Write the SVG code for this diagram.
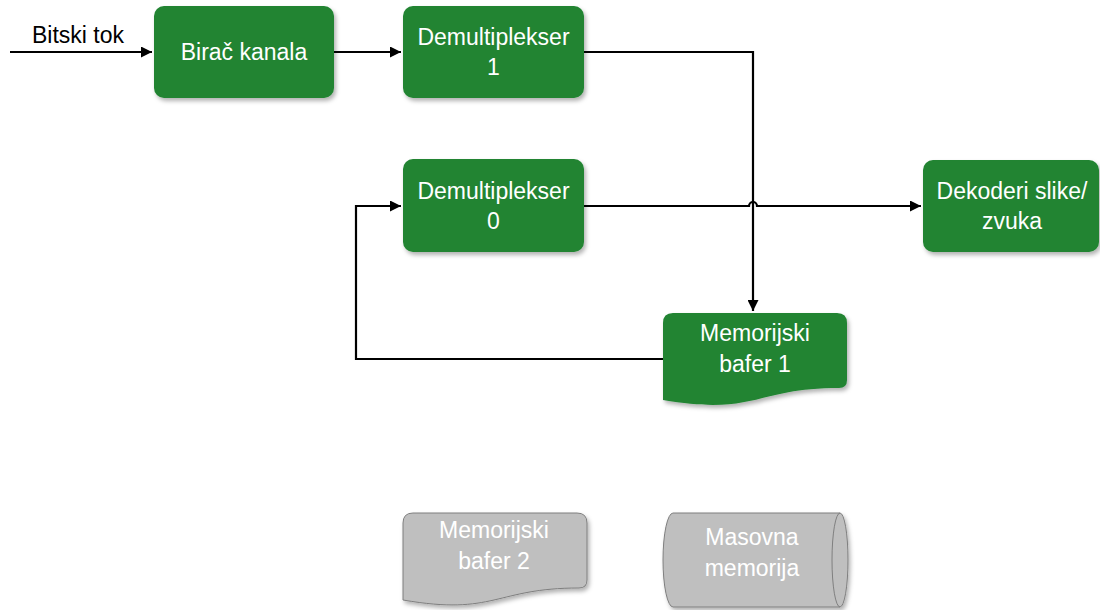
<svg xmlns="http://www.w3.org/2000/svg" width="1100" height="610" viewBox="0 0 1100 610">
<defs>
<filter id="sh" x="-10%" y="-10%" width="125%" height="130%">
<feDropShadow dx="2" dy="3" stdDeviation="2" flood-color="#000" flood-opacity="0.3"/>
</filter>
<marker id="arr" viewBox="0 0 10 10" refX="10" refY="5" markerWidth="6" markerHeight="5" orient="auto" markerUnits="strokeWidth">
<path d="M0,0 L10,5 L0,10 Z" fill="#000"/>
</marker>
<style>
.g{fill:#218433;filter:url(#sh)}
.gr{fill:#BFBFBF;stroke:#7F7F7F;stroke-width:1;filter:url(#sh)}
.t{font-family:"Liberation Sans",Arial,sans-serif;font-size:23px;fill:#fff;text-anchor:middle}
.tb{font-family:"Liberation Sans",Arial,sans-serif;font-size:23px;fill:#000}
.c{fill:none;stroke:#000;stroke-width:2.2}
</style>
</defs>
<rect width="1100" height="610" fill="#fff"/>
<g id="connectors">
<path class="c" d="M10,52 L152,52" marker-end="url(#arr)"/>
<path class="c" d="M334,52 L401,52" marker-end="url(#arr)"/>
<path class="c" d="M584,52 L753,52 L753,311" marker-end="url(#arr)"/>
<path class="c" d="M584,206 L749,206 A4,4 0 0 1 757,206 L921,206" marker-end="url(#arr)"/>
<path class="c" d="M663,359 L356,359 L356,206 L401,206" marker-end="url(#arr)"/>
<text class="tb" x="32" y="43">Bitski tok</text>
</g>
<g id="birac">
<rect class="g" x="154" y="6" width="180" height="92" rx="10"/>
<text class="t" x="244" y="60">Birač kanala</text>
</g>
<g id="demux1">
<rect class="g" x="403" y="6" width="181" height="92" rx="10"/>
<text class="t" x="493.5" y="45">Demultiplekser</text>
<text class="t" x="493.5" y="75">1</text>
</g>
<g id="demux0">
<rect class="g" x="403" y="159" width="181" height="93" rx="10"/>
<text class="t" x="493.5" y="199">Demultiplekser</text>
<text class="t" x="493.5" y="229">0</text>
</g>
<g id="dekoderi">
<rect class="g" x="923" y="160" width="176" height="92" rx="10"/>
<text class="t" x="1012" y="199">Dekoderi slike/</text>
<text class="t" x="1012" y="229">zvuka</text>
</g>
<g id="membafer1">
<path class="g" d="M663,323 Q663,313 673,313 L837,313 Q847,313 847,323 L847,380 Q847,388 839,388 C755,388 755,416 663,400 Z"/>
<text class="t" x="755" y="341">Memorijski</text>
<text class="t" x="755" y="372">bafer 1</text>
</g>
<g id="membafer2">
<path class="gr" d="M403,523 Q403,513 413,513 L577,513 Q587,513 587,523 L587,580 Q587,588 579,588 C495,588 495,616 403,600 Z"/>
<text class="t" x="494" y="538">Memorijski</text>
<text class="t" x="494" y="569">bafer 2</text>
</g>
<g id="masovna">
<path class="gr" d="M673,513 L840,513 A8,47 0 0 1 840,607 L673,607 A10,47 0 0 1 673,513 Z"/>
<path d="M840,513 A8,47 0 0 0 840,607" fill="none" stroke="#7F7F7F" stroke-width="1"/>
<text class="t" x="752" y="545">Masovna</text>
<text class="t" x="752" y="576">memorija</text>
</g>
</svg>
